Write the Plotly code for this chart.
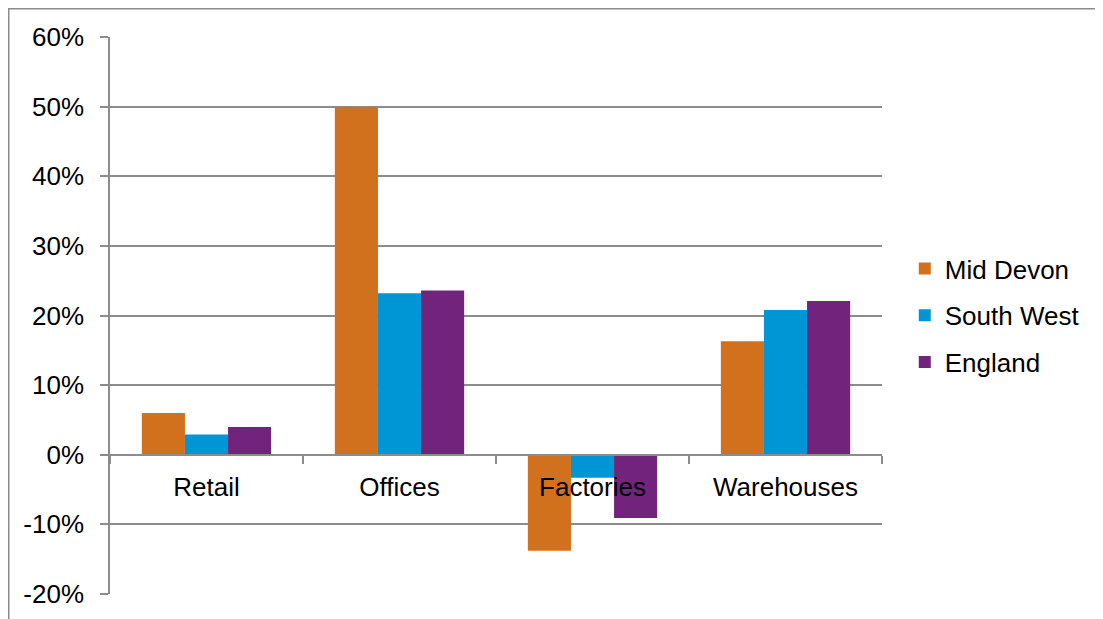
import plotly.graph_objects as go

categories = ["Retail", "Offices", "Factories", "Warehouses"]
series_names = ["Mid Devon", "South West", "England"]
mid_devon = [6.0, 50.0, -13.8, 16.3]
south_west = [2.9, 23.2, -3.3, 20.8]
england = [4.0, 23.6, -9.1, 22.1]
colors = ["#D2711D", "#0096D6", "#72247D"]
y_ticks = [-20, -10, 0, 10, 20, 30, 40, 50, 60]
y_tick_labels = [f"{v}%" for v in y_ticks]

FONT = "Liberation Sans, Arial, sans-serif"
GRID = "#8c8c8c"

# page body has an 8px margin; figure drawn at (8, 8)
W, H = 1095, 611
L, T, PW, PH = 102, 29, 772, 557

fig = go.Figure()
for name, vals, col in zip(series_names, [mid_devon, south_west, england], colors):
    fig.add_trace(go.Bar(
        name=name, x=categories, y=vals, marker_color=col,
        marker_line_width=0, legendgroup=name,
    ))

fig.update_layout(
    width=W, height=H,
    margin=dict(l=L, r=W - L - PW, t=T, b=H - T - PH, autoexpand=False),
    paper_bgcolor="white", plot_bgcolor="white",
    barmode="group", bargap=0.33, bargroupgap=0,
    font=dict(family=FONT, size=26, color="black"),
    showlegend=True,
    legend=dict(x=1.0295, y=0.5, xanchor="left", yanchor="middle",
                font=dict(family=FONT, size=26, color="black"),
                tracegroupgap=10, itemwidth=30, bgcolor="rgba(0,0,0,0)"),
    xaxis=dict(
        anchor="free", position=0.25,
        showline=True, linecolor=GRID, linewidth=1.5,
        ticks="outside", tickson="boundaries", ticklen=8, tickcolor=GRID, tickwidth=1.5,
        showgrid=False, ticklabelstandoff=9,
        tickfont=dict(family=FONT, size=26, color="black"),
    ),
    yaxis=dict(
        range=[-20, 60], tickvals=y_ticks, ticktext=y_tick_labels,
        showline=True, linecolor=GRID, linewidth=1.5,
        ticks="outside", ticklen=8, tickcolor=GRID, tickwidth=1.5,
        showgrid=True, gridcolor=GRID, gridwidth=1.5, zeroline=False,
        ticklabelstandoff=11,
        tickfont=dict(family=FONT, size=26, color="black"),
    ),
    shapes=[dict(type="rect", xref="paper", yref="paper",
                 x0=(0.75 - L) / PW, x1=(1300 - L) / PW,
                 y0=(PH + T - 800) / PH, y1=(PH + T - 0.75) / PH,
                 line=dict(color="#8c8c8c", width=1.5), fillcolor="rgba(0,0,0,0)", layer="below")],
)

fig.write_html("out.html")
